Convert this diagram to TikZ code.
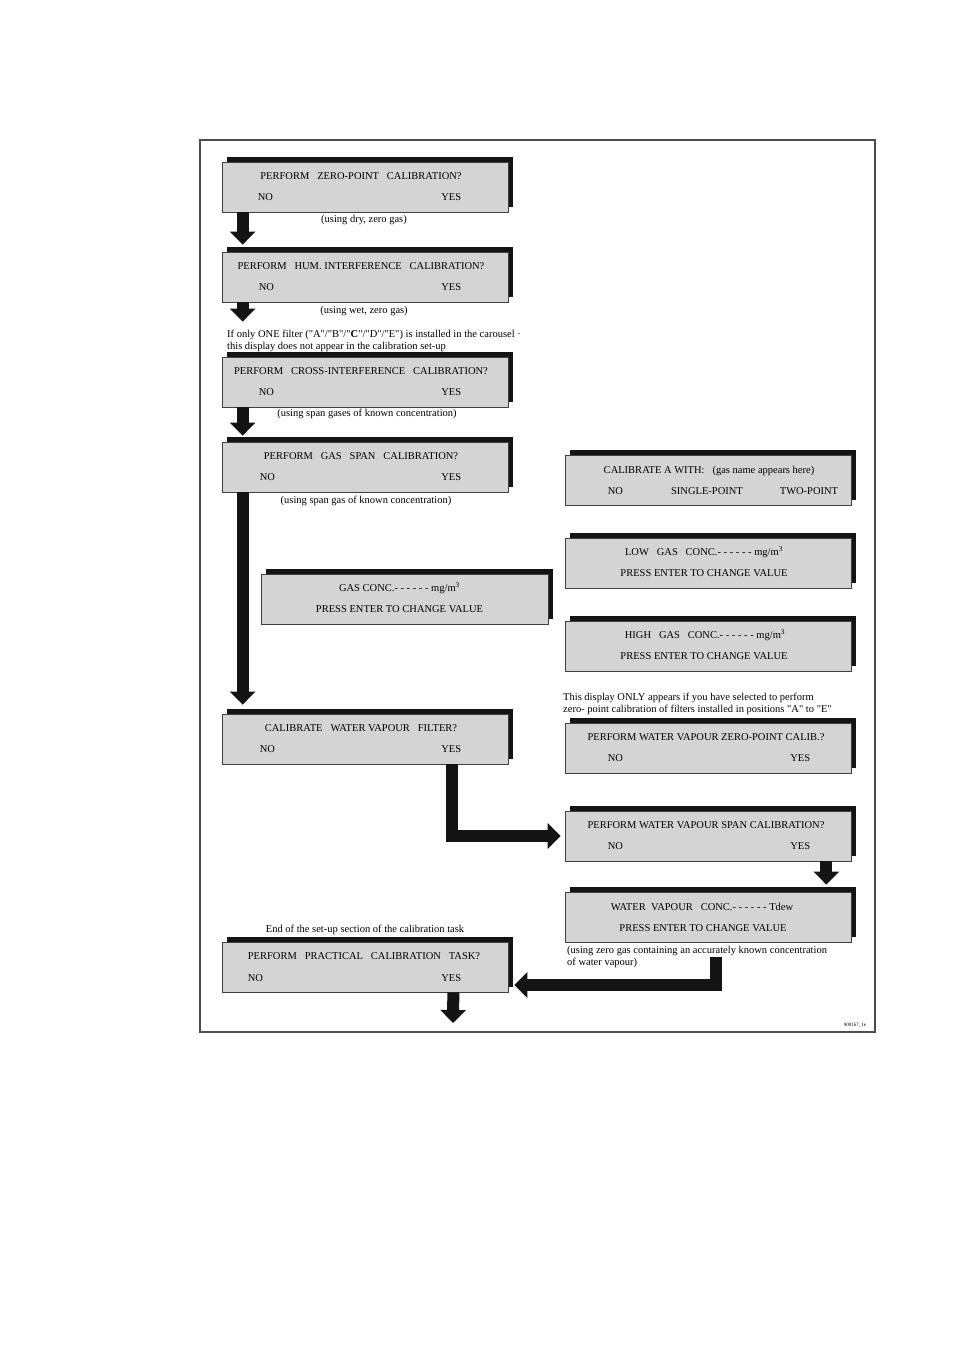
\documentclass[tikz,border=0pt]{standalone}
\usepackage{fontspec}
\setmainfont{Liberation Serif}[Ligatures=TeXOff]
\usetikzlibrary{arrows.meta,shadows,calc}

\begin{document}
\begin{tikzpicture}[x=1pt,y=-1pt,font=\fontsize{10.5}{12}\selectfont,
  disp/.style={draw=black!75,line width=0.7pt,fill=black!17,minimum width=286pt,minimum height=50pt,inner sep=0pt,
    general shadow={fill=black!92,shadow xshift=5pt,shadow yshift=5pt}},
  txt/.style={inner sep=0pt},
  blk/.style={line width=12pt,black!92,-{Triangle[width=25pt,length=13pt]}}]
\useasboundingbox (0,0) rectangle (955,1350);
\draw[black!70,line width=1.2pt] (200,140) rectangle (875,1032);

\node[disp] (zp) at (365,187) {};
\node[txt] (zpq) at ([xshift=-4pt,yshift=10.5pt]zp.center) {PERFORM~~~ZERO-POINT~~~CALIBRATION?};
\node[txt,anchor=west] (zpno) at ([xshift=36pt,yshift=-10pt]zp.west) {NO};
\node[txt,anchor=east] (zpyes) at ([xshift=-47pt,yshift=-10pt]zp.east) {YES};
\node[txt] (zpnote) at (364,220) {(using dry, zero gas)};

\node[disp] (hum) at (365,277) {};
\node[txt] (humq) at ([xshift=-4pt,yshift=10.5pt]hum.center) {PERFORM~~~HUM. INTERFERENCE~~~CALIBRATION?};
\node[txt,anchor=west] (humno) at ([xshift=37pt,yshift=-10pt]hum.west) {NO};
\node[txt,anchor=east] (humyes) at ([xshift=-47pt,yshift=-10pt]hum.east) {YES};
\node[txt] (humnote) at (364,311) {(using wet, zero gas)};
\node[txt,anchor=west,align=left] (onefilter) at (227,341) {If only ONE filter ("A"/"B"/"\textbf{C}"/"D"/"E") is installed in the carousel ·\\this display does not appear in the calibration set-up};

\node[disp] (cross) at (365,382) {};
\node[txt] (crossq) at ([xshift=-4pt,yshift=10.5pt]cross.center) {PERFORM~~~CROSS-INTERFERENCE~~~CALIBRATION?};
\node[txt,anchor=west] (crossno) at ([xshift=37pt,yshift=-10pt]cross.west) {NO};
\node[txt,anchor=east] (crossyes) at ([xshift=-47pt,yshift=-10pt]cross.east) {YES};
\node[txt] (crossnote) at (367,414) {(using span gases of known concentration)};

\node[disp] (gspan) at (365,467) {};
\node[txt] (gspanq) at ([xshift=-4pt,yshift=10.5pt]gspan.center) {PERFORM~~~GAS~~~SPAN~~~CALIBRATION?};
\node[txt,anchor=west] (gspanno) at ([xshift=38pt,yshift=-10pt]gspan.west) {NO};
\node[txt,anchor=east] (gspanyes) at ([xshift=-47pt,yshift=-10pt]gspan.east) {YES};
\node[txt] (gspannote) at (366,501) {(using span gas of known concentration)};

\node[disp,minimum width=287pt] (gconc) at (404.5,599) {};
\node[txt] (gconcv) at ([xshift=-5pt,yshift=10.5pt]gconc.center) {GAS CONC.- - - - - - mg/m\textsuperscript{3}};
\node[txt] (gconcp) at ([xshift=-5pt,yshift=-10pt]gconc.center) {PRESS ENTER TO CHANGE VALUE};

\node[disp] (wvf) at (365,739) {};
\node[txt] (wvfq) at ([xshift=-4pt,yshift=10.5pt]wvf.center) {CALIBRATE~~~WATER VAPOUR~~~FILTER?};
\node[txt,anchor=west] (wvfno) at ([xshift=38pt,yshift=-10pt]wvf.west) {NO};
\node[txt,anchor=east] (wvfyes) at ([xshift=-47pt,yshift=-10pt]wvf.east) {YES};

\node[disp] (calA) at (708,480) {};
\node[txt] (calAq) at ([xshift=1pt,yshift=9.5pt]calA.center) {CALIBRATE A WITH:~~~(gas name appears here)};
\node[txt,anchor=west] (calAno) at ([xshift=43pt,yshift=-11pt]calA.west) {NO};
\node[txt] (calAone) at ([xshift=-1pt,yshift=-11pt]calA.center) {SINGLE-POINT};
\node[txt,anchor=east] (calAtwo) at ([xshift=-13pt,yshift=-11pt]calA.east) {TWO-POINT};

\node[disp] (low) at (708,563) {};
\node[txt] (lowv) at ([xshift=-4pt,yshift=10.5pt]low.center) {LOW~~~GAS~~~CONC.- - - - - - mg/m\textsuperscript{3}};
\node[txt] (lowp) at ([xshift=-4pt,yshift=-10pt]low.center) {PRESS ENTER TO CHANGE VALUE};

\node[disp] (high) at (708,646) {};
\node[txt] (highv) at ([xshift=-3pt,yshift=10.5pt]high.center) {HIGH~~~GAS~~~CONC.- - - - - - mg/m\textsuperscript{3}};
\node[txt] (highp) at ([xshift=-4pt,yshift=-10pt]high.center) {PRESS ENTER TO CHANGE VALUE};

\node[txt,anchor=west,align=left] (onlynote) at (563,704) {This display ONLY appears if you have selected to perform\\zero- point calibration of filters installed in positions "A" to "E"};

\node[disp] (wvzp) at (708,748) {};
\node[txt] (wvzpq) at ([xshift=-2pt,yshift=10.5pt]wvzp.center) {PERFORM WATER VAPOUR ZERO-POINT CALIB.?};
\node[txt,anchor=west] (wvzpno) at ([xshift=43pt,yshift=-10pt]wvzp.west) {NO};
\node[txt,anchor=east] (wvzpyes) at ([xshift=-41pt,yshift=-10pt]wvzp.east) {YES};

\node[disp] (wvspan) at (708,836) {};
\node[txt] (wvspanq) at ([xshift=-2pt,yshift=10.5pt]wvspan.center) {PERFORM WATER VAPOUR SPAN CALIBRATION?};
\node[txt,anchor=west] (wvspanno) at ([xshift=43pt,yshift=-10pt]wvspan.west) {NO};
\node[txt,anchor=east] (wvspanyes) at ([xshift=-41pt,yshift=-10pt]wvspan.east) {YES};

\node[disp] (wvc) at (708,917) {};
\node[txt] (wvcv) at ([xshift=-6pt,yshift=10.5pt]wvc.center) {WATER~~VAPOUR~~~CONC.- - - - - - Tdew};
\node[txt] (wvcp) at ([xshift=-5pt,yshift=-11pt]wvc.center) {PRESS ENTER TO CHANGE VALUE};
\node[txt,anchor=west,align=left] (wvcnote) at (567,957) {(using zero gas containing an accurately known concentration\\of water vapour)};

\node[txt] (endnote) at (365,930) {End of the set-up section of the calibration task};
\node[disp] (prac) at (365,967) {};
\node[txt] (pracq) at ([xshift=-1pt,yshift=10.5pt]prac.center) {PERFORM~~~PRACTICAL~~~CALIBRATION~~~TASK?};
\node[txt,anchor=west] (pracno) at ([xshift=26pt,yshift=-11pt]prac.west) {NO};
\node[txt,anchor=east] (pracyes) at ([xshift=-47pt,yshift=-11pt]prac.east) {YES};
\coordinate (out) at (453,1023);

\node[txt,font=\fontsize{5}{6}\selectfont] (figno) at (855,1025) {900167\_1e};

\draw[blk] ([xshift=21pt]zp.south west) -- ([xshift=21pt,yshift=7pt]hum.north west);
\draw[blk] ([xshift=21pt]hum.south west) -- ([xshift=21pt,yshift=35pt]cross.north west);
\draw[blk] ([xshift=21pt]cross.south west) -- ([xshift=21pt,yshift=6pt]gspan.north west);
\draw[blk] ([xshift=21pt]gspan.south west) -- ([xshift=21pt,yshift=9pt]wvf.north west);
\draw[blk] ([xshift=-56pt]wvf.south east) |- ([xshift=-4pt]wvspan.west);
\draw[blk] ([xshift=-25pt]wvspan.south east) -- ([xshift=-25pt,yshift=7pt]wvc.north east);
\draw[blk] ([xshift=8pt,yshift=-15pt]wvc.south) |- ([xshift=6pt,yshift=-18pt]prac.east);
\draw[blk] ([xshift=-55pt]prac.south east) -- (out);
\end{tikzpicture}
\end{document}
